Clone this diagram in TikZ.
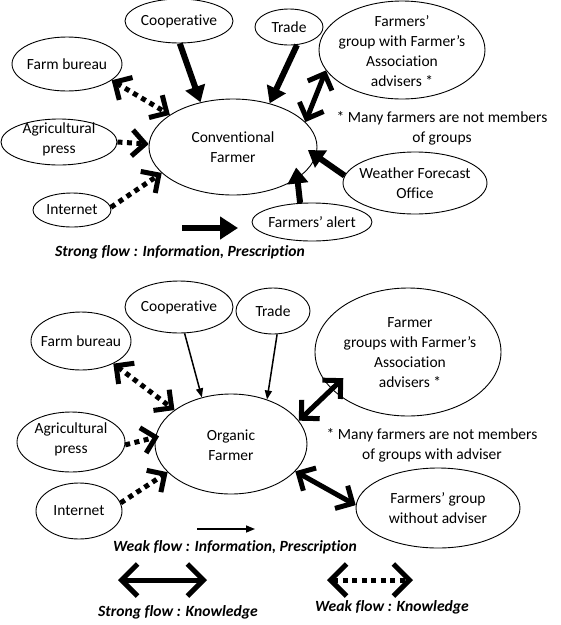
\documentclass[tikz,border=0pt]{standalone}
\usepackage{fontspec}
\setmainfont{Carlito}[Ligatures=NoCommon]
\usetikzlibrary{shapes.geometric,arrows.meta}
\begin{document}
\begin{tikzpicture}[x=1pt,y=-1pt,
  ell/.style={ellipse,draw,line width=0.9pt,inner sep=0pt},
  lbl/.style={align=center,inner sep=0pt,font=\fontsize{15.5}{20}\selectfont},
  leg/.style={inner sep=0pt,font=\fontsize{15.6}{18}\selectfont\bfseries\itshape},
  strong/.style={line width=6pt,-{Triangle[length=16pt,width=20pt]}},
  strongL/.style={line width=6pt,-{Triangle[length=18pt,width=22pt]}},
  weak/.style={line width=1.5pt,-{Triangle[length=9pt,width=7pt]}},
  know/.style={line width=5pt,line join=miter,{Straight Barb[length=13pt,width=26pt]}-{Straight Barb[length=13pt,width=26pt]}},
  knowL/.style={line width=5pt,line join=miter,{Straight Barb[length=16pt,width=32pt]}-{Straight Barb[length=16pt,width=32pt]}},
  dotk/.style={line width=5pt,line join=miter,dash pattern=on 5pt off 4.5pt,{Straight Barb[length=13pt,width=26pt]}-{Straight Barb[length=13pt,width=26pt]}},
  dotkL/.style={line width=5pt,line join=miter,dash pattern=on 5pt off 4.5pt,{Straight Barb[length=16pt,width=32pt]}-{Straight Barb[length=16pt,width=32pt]}},
  doti/.style={line width=5pt,line join=miter,dash pattern=on 5pt off 4.5pt,-{Straight Barb[length=13pt,width=26pt]}}
]
\useasboundingbox (0,0) rectangle (561,625);

% ---------- top: conventional ----------
\node[ell,minimum width=108pt,minimum height=44pt] (coop) at (179,21) {};
\node[ell,minimum width=68pt,minimum height=36pt] (trade) at (289,27) {};
\node[ell,minimum width=166pt,minimum height=98pt] (fg) at (402,50) {};
\node[ell,minimum width=110pt,minimum height=54pt] (fb) at (67,64) {};
\node[ell,minimum width=116pt,minimum height=46pt] (ap) at (59,142) {};
\node[ell,minimum width=168pt,minimum height=96pt] (conv) at (233,147) {};
\node[ell,minimum width=78pt,minimum height=34pt] (inet) at (72,210) {};
\node[ell,minimum width=144pt,minimum height=62pt] (wfo) at (415,183) {};
\node[ell,minimum width=120pt,minimum height=38pt] (alert) at (312,222) {};

\node[lbl] (coopT) at (coop) {Cooperative};
\node[lbl] (tradeT) at (trade) {Trade};
\node[lbl] (fgT) at (402,51) {Farmers’\\group with Farmer’s\\Association\\advisers *};
\node[lbl] (fbT) at (fb) {Farm bureau};
\node[lbl] (apT) at (59,139) {Agricultural\\press};
\node[lbl] (convT) at (conv) {Conventional\\Farmer};
\node[lbl] (inetT) at (inet) {Internet};
\node[lbl] (wfoT) at (wfo) {Weather Forecast\\Office};
\node[lbl] (alertT) at (alert) {Farmers’ alert};
\node[lbl] (note1) at (442,128) {* Many farmers are not members\\of groups};

\draw[strong] (coop.-88) -- (conv.126);
\draw[strong] (trade.-66) -- (conv.50);
\draw[know] (fg.195) -- (conv.19);
\draw[dotk] (fb.-20) -- (conv.153);
\draw[doti] (ap.0) -- (conv.178);
\draw[doti] (inet.4) -- (conv.200);
\draw[strong,shorten >=-10pt] (wfo.174) -- (conv.-6);
\draw[strong,shorten >=-11pt] (alert.122) -- (conv.-26);

\coordinate (sA) at (182,228);
\coordinate (sB) at (238,228);
\draw[strongL] (sA) -- (sB);
\node[leg] (leg1) at (180,252) {Strong flow : Information, Prescription};

% ---------- bottom: organic ----------
\node[ell,minimum width=108pt,minimum height=52pt] (coop2) at (179,307) {};
\node[ell,minimum width=74pt,minimum height=46pt] (trade2) at (273,311) {};
\node[ell,minimum width=186pt,minimum height=128pt] (fg2) at (408,352) {};
\node[ell,minimum width=100pt,minimum height=58pt] (fb2) at (81,341) {};
\node[ell,minimum width=108pt,minimum height=60pt] (ap2) at (71,442) {};
\node[ell,minimum width=152pt,minimum height=100pt] (org) at (231,444) {};
\node[ell,minimum width=86pt,minimum height=56pt] (inet2) at (79,511) {};
\node[ell,minimum width=164pt,minimum height=80pt] (fgw) at (438,508) {};

\node[lbl] (coop2T) at (coop2) {Cooperative};
\node[lbl] (trade2T) at (trade2) {Trade};
\node[lbl] (fg2T) at (410,353) {Farmer\\groups with Farmer’s\\Association\\advisers *};
\node[lbl] (fb2T) at (fb2) {Farm bureau};
\node[lbl] (ap2T) at (71,439) {Agricultural\\press};
\node[lbl] (orgT) at (231,445) {Organic\\Farmer};
\node[lbl] (inet2T) at (inet2) {Internet};
\node[lbl] (fgwT) at (fgw) {Farmers’ group\\without adviser};
\node[lbl] (note2) at (432,445) {* Many farmers are not members\\of groups with adviser};

\draw[weak] (coop2.-78) -- (org.122);
\draw[weak] (trade2.-80) -- (org.51);
\draw[know,shorten <=-16pt] (fg2.206) -- (org.19);
\draw[dotk] (fb2.-35) -- (org.149);
\draw[doti,shorten >=-4pt] (ap2.-3) -- (org.175);
\draw[doti] (inet2.11) -- (org.204);
\draw[know] (org.-23) -- (fgw.178);

\coordinate (wA) at (197,529);
\coordinate (wB) at (255,529);
\draw[weak] (wA) -- (wB);
\node[leg] (leg2) at (235,547) {Weak flow : Information, Prescription};

\coordinate (kA) at (118,580);
\coordinate (kB) at (207,580);
\draw[knowL] (kA) -- (kB);
\node[leg] (leg3) at (178,612) {Strong flow : Knowledge};

\coordinate (dA) at (327,580);
\coordinate (dB) at (413,580);
\draw[dotkL] (dA) -- (dB);
\node[leg] (leg4) at (392,607) {Weak flow : Knowledge};
\end{tikzpicture}
\end{document}
